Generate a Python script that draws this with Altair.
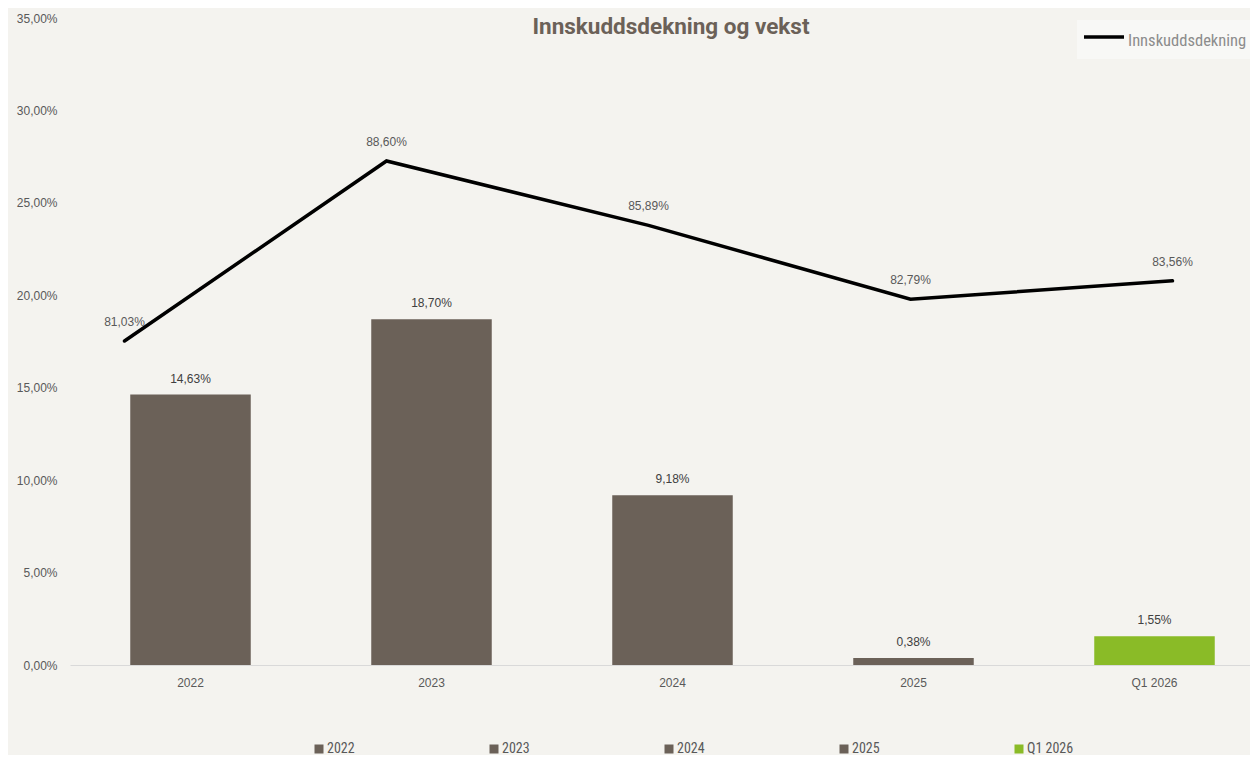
import altair as alt
import pandas as pd

categories = ["2022", "2023", "2024", "2025", "Q1 2026"]
growth = [14.63, 18.70, 9.18, 0.38, 1.55]          # vekst, %
coverage = [81.03, 88.60, 85.89, 82.79, 83.56]     # innskuddsdekning, %
series_name = "Innskuddsdekning"
bar_colors = ["#6b6158", "#6b6158", "#6b6158", "#6b6158", "#8abb27"]
y_ticks = [0, 5, 10, 15, 20, 25, 30, 35]

df = pd.DataFrame({"cat": categories, "growth": growth, "cov": coverage,
                   "series": [series_name] * len(categories)})

BG = "#f4f3ef"
NARROW = "Liberation Sans Narrow, Roboto Condensed, DejaVu Sans Condensed, Roboto"

base = alt.Chart(df).transform_calculate(
    glabel="replace(format(datum.growth, '.2f'), '.', ',') + '%'",
    clabel="replace(format(datum.cov, '.2f'), '.', ',') + '%'",
)

xbar = alt.X("cat:N", sort=categories, title=None,
             scale=alt.Scale(range=[0, 1205], paddingInner=0.5, paddingOuter=0.25),
             axis=alt.Axis(labelAngle=0, ticks=False, domainColor="#d9d9d9", domainWidth=1,
                           labelColor="#595959", labelFont="Liberation Sans", labelFontSize=12,
                           labelPadding=12, grid=False))
ybar = alt.Y("growth:Q", title=None,
             scale=alt.Scale(domain=[0, 35], nice=False, zero=True),
             axis=alt.Axis(values=y_ticks, domain=False, ticks=False, grid=False,
                           labelExpr="replace(format(datum.value, '.2f'), '.', ',') + '%'",
                           labelColor="#595959", labelFont="Liberation Sans", labelFontSize=12,
                           labelPadding=13))

bars = base.mark_bar().encode(
    x=xbar, y=ybar,
    color=alt.Color("cat:N", sort=categories,
                    scale=alt.Scale(domain=categories, range=bar_colors),
                    legend=alt.Legend(title=None, orient="none", legendX=242, legendY=724,
                                      direction="horizontal", columns=5, gridAlign="all",
                                      columnPadding=113, symbolType="square", symbolSize=81,
                                      symbolStrokeWidth=0, labelOffset=1, padding=0,
                                      labelFont=NARROW, labelFontSize=14, labelColor="#595959")),
)
bar_text = base.mark_text(dy=-16, font="Liberation Sans", fontSize=12, color="#404040").encode(
    x=xbar, y=ybar, text="glabel:N")

xline = alt.X("cat:N", sort=categories, title=None,
              scale=alt.Scale(type="point", range=[54.5, 1102.5], padding=0), axis=None)
yline = alt.Y("cov:Q", title=None,
              scale=alt.Scale(domain=[67.41, 94.61], nice=False, zero=False), axis=None)

line = base.mark_line(strokeWidth=3.5, strokeCap="round").encode(
    x=xline, y=yline,
    stroke=alt.Stroke("series:N", scale=alt.Scale(domain=[series_name], range=["#000000"]),
                      legend=alt.Legend(title=None, orient="none", legendX=1007, legendY=2,
                                        symbolType="M-1.4,-0.4H2.6", symbolSize=400,
                                        symbolStrokeWidth=3.5,
                                        labelOffset=18, padding=9, fillColor="#f8f8f6",
                                        labelFont=NARROW, labelFontSize=16.5, labelColor="#8c8c8c")),
)
line_text = base.mark_text(dy=-19, font="Liberation Sans", fontSize=12, color="#595959").encode(
    x=xline, y=yline, text="clabel:N")

chart = alt.layer(
    alt.layer(bars, bar_text),
    alt.layer(line, line_text),
).resolve_scale(x="independent", y="independent").properties(
    width=1180, height=647,
    background=BG,
    autosize=alt.AutoSizeParams(type="none"),
    padding={"left": 62, "top": 10, "right": 0, "bottom": 90},
    title=alt.TitleParams("Innskuddsdekning og vekst", anchor="middle", frame="group",
                          baseline="middle", offset=0, dy=37, dx=11,
                          font="Roboto", fontSize=22.5, fontWeight="bold", color="#6b6158"),
).configure_view(stroke=None)

chart.save("out.html", embed_options={"renderer": "svg", "actions": False})
